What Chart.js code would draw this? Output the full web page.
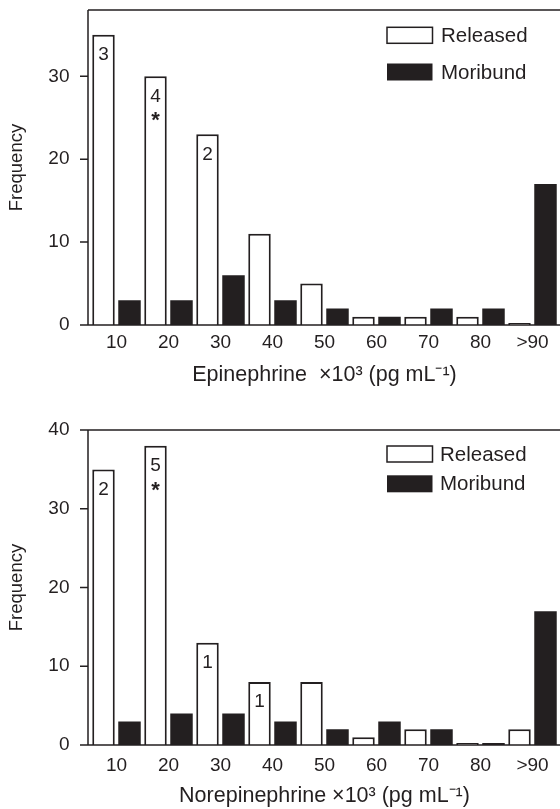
<!DOCTYPE html>
<html><head><meta charset="utf-8">
<script src="https://cdn.jsdelivr.net/npm/chart.js@4.4.0/dist/chart.umd.min.js"></script>
<style>
html,body{margin:0;padding:0;background:#fff;overflow:hidden;width:560px;height:809px}
canvas{position:absolute;left:0}
#c1{top:0}
#c2{top:400px}
</style></head><body>
<canvas id="c1" width="560" height="400"></canvas>
<canvas id="c2" width="560" height="409"></canvas>
<script>
// ---- data ----
const categories = ['10','20','30','40','50','60','70','80','>90'];
const seriesNames = ['Released','Moribund'];
const epiReleased = [35,30,23,11,5,1,1,1,0];
const epiMoribund = [3,3,6,3,2,1,2,2,17];
const epiNotes = [['3'],['4','*'],['2'],[],[],[],[],[],[]];
const norReleased = [35,38,13,8,8,1,2,0,2];
const norMoribund = [3,4,4,3,2,3,2,0,17];
const norNotes = [['2'],['5','*'],['1'],['1'],[],[],[],[],[]];
const yTicks = [0,10,20,30,40];
const epiMax = 38;
const norMax = 40;
const yTitle = 'Frequency';
const epiTitle = 'Epinephrine  \u00d710\u00b3 (pg mL\u207b\u00b9)';
const norTitle = 'Norepinephrine \u00d710\u00b3 (pg mL\u207b\u00b9)';

// ---- style ----
const ink = '#231f20';
const FONT = "'Liberation Sans', Arial, Helvetica, sans-serif";
Chart.defaults.font.family = FONT;
Chart.defaults.color = ink;

const framePlugin = {
  id: 'frame',
  afterDatasetsDraw(chart, args, o) {
    const {ctx, chartArea: a} = chart;
    const y = chart.scales.y;
    ctx.save();
    ctx.strokeStyle = ink; ctx.lineWidth = 1.5;
    ctx.beginPath();
    ctx.moveTo(o.axisX, a.top); ctx.lineTo(chart.width, a.top);
    ctx.moveTo(o.axisX, a.top); ctx.lineTo(o.axisX, a.bottom);
    ctx.moveTo(o.axisX - o.tick, a.bottom); ctx.lineTo(chart.width, a.bottom);
    y.ticks.forEach(t => {
      const py = y.getPixelForValue(t.value);
      ctx.moveTo(o.axisX - o.tick, py); ctx.lineTo(o.axisX, py);
    });
    ctx.stroke();
    ctx.restore();
  }
};

const notesPlugin = {
  id: 'notes',
  afterDatasetsDraw(chart, args, o) {
    const {ctx} = chart;
    const meta = chart.getDatasetMeta(0);
    ctx.save();
    ctx.fillStyle = ink;
    ctx.textAlign = 'center';
    ctx.textBaseline = 'middle';
    meta.data.forEach((bar, i) => {
      (o.notes[i] || []).forEach((line, k) => {
        if (line === '*') {
          ctx.font = `bold ${o.starSize}px ${FONT}`;
          ctx.fillText(line, bar.x, bar.y + o.first + k * o.step + o.starShift);
        } else {
          ctx.font = `${o.size}px ${FONT}`;
          ctx.fillText(line, bar.x, bar.y + o.first + k * o.step);
        }
      });
    });
    ctx.restore();
  }
};

const legendPlugin = {
  id: 'boxlegend',
  afterDraw(chart, args, o) {
    const {ctx} = chart;
    ctx.save();
    ctx.font = `${o.size}px ${FONT}`;
    ctx.textAlign = 'left';
    ctx.textBaseline = 'middle';
    chart.data.datasets.forEach((ds, i) => {
      const cy = o.rows[i];
      const h = o.boxH[i];
      ctx.fillStyle = ds.backgroundColor;
      ctx.fillRect(o.x, cy - h / 2, o.boxW, h);
      if (ds.backgroundColor !== ink) {
        ctx.strokeStyle = ink; ctx.lineWidth = 1.5;
        ctx.strokeRect(o.x, cy - h / 2, o.boxW, h);
      }
      ctx.fillStyle = ink;
      ctx.fillText(ds.label, o.textX, cy + 1);
    });
    ctx.restore();
  }
};

function makeChart(id, released, moribund, notes, yMax, xTitle, geo) {
  return new Chart(document.getElementById(id), {
    type: 'bar',
    data: {
      labels: categories,
      datasets: [
        { label: seriesNames[0], data: released, backgroundColor: '#ffffff', borderColor: ink,
          borderWidth: 2, categoryPercentage: 1, barPercentage: 0.865, minBarLength: 2 },
        { label: seriesNames[1], data: moribund, backgroundColor: ink, borderColor: ink,
          borderWidth: 0, categoryPercentage: 1, barPercentage: 0.865, minBarLength: 2 }
      ]
    },
    options: {
      responsive: false,
      animation: false,
      devicePixelRatio: 1,
      layout: { padding: { top: geo.padTop, right: 1.5, left: 0, bottom: 0 } },
      plugins: {
        legend: { display: false },
        tooltip: { enabled: false },
        frame: { axisX: 88, tick: 8 },
        notes: { notes: notes, size: 19, starSize: 22, first: 20, step: 21, starShift: 4 },
        boxlegend: geo.legend
      },
      scales: {
        x: {
          grid: { display: false, drawTicks: false },
          border: { display: false },
          ticks: { padding: geo.xTickPad, font: { size: 19 }, color: ink, maxRotation: 0, autoSkip: false },
          title: { display: true, text: xTitle, font: { size: 21.5 }, color: ink, padding: { top: 0, bottom: geo.xTitlePad } },
          afterFit: s => { s.height = geo.xHeight; s.paddingLeft = 0; s.paddingRight = 0; }
        },
        y: {
          min: 0, max: yMax,
          afterBuildTicks: s => { s.ticks = yTicks.filter(v => v <= s.max).map(v => ({ value: v })); },
          grid: { display: false, drawTicks: false },
          border: { display: false },
          ticks: { padding: 21, font: { size: 19 }, color: ink },
          title: { display: true, text: yTitle, font: { size: 18.5 }, color: ink, padding: { top: 6, bottom: 0 } },
          afterFit: s => { s.width = 90.5; s.paddingTop = 0; s.paddingBottom = 0; }
        }
      }
    },
    plugins: [framePlugin, notesPlugin, legendPlugin]
  });
}

makeChart('c1', epiReleased, epiMoribund, epiNotes, epiMax, epiTitle, {
  padTop: 10, xHeight: 75, xTickPad: 6, xTitlePad: 12,
  legend: { x: 387, boxW: 45.5, boxH: [16, 17], rows: [35.3, 72], textX: 441, size: 20.5 }
});
makeChart('c2', norReleased, norMoribund, norNotes, norMax, norTitle, {
  padTop: 30, xHeight: 64, xTickPad: 9, xTitlePad: 0,
  legend: { x: 387, boxW: 45.5, boxH: [16, 17], rows: [54, 83.8], textX: 440, size: 20.5 }
});
</script>
</body></html>
